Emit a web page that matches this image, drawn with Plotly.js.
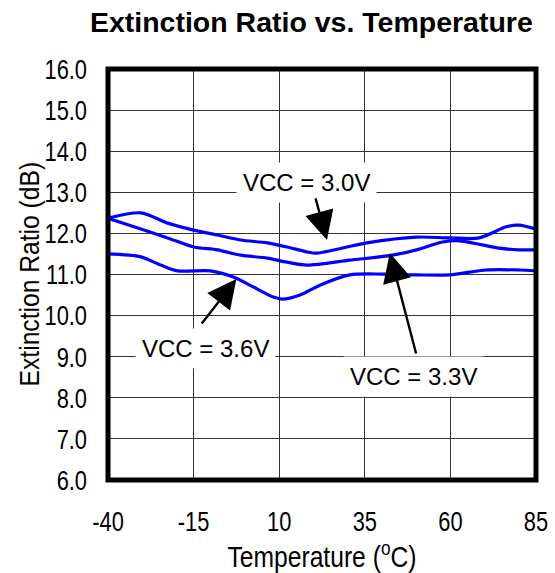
<!DOCTYPE html>
<html>
<head>
<meta charset="utf-8">
<script src="https://cdn.plot.ly/plotly-3.0.1.min.js"></script>
<style>html,body{margin:0;padding:0;background:#fff;}#chart{width:555px;height:573px;}</style>
</head>
<body>
<div id="chart"></div>
<script>
// Temperature (°C) and extinction ratio (dB)
const temp30 = [-40, -30.4, -22.6, -15, -8, -1.3, 6.5, 12.3, 18.1, 21, 35.6, 50.1, 59.7, 68.4, 76.3, 80, 85];
const er30   = [12.37, 12.50, 12.25, 12.08, 11.96, 11.84, 11.77, 11.67, 11.55, 11.52, 11.77, 11.91, 11.89, 11.89, 12.16, 12.2, 12.1];

const temp33 = [-40, -32.4, -22.6, -15, -8, -1.3, 6.5, 12.3, 18.1, 30.6, 43.1, 50.1, 57.7, 62.6, 69.3, 74.2, 80, 85];
const er33   = [12.37, 12.16, 11.89, 11.67, 11.6, 11.47, 11.40, 11.30, 11.23, 11.35, 11.47, 11.6, 11.79, 11.82, 11.72, 11.64, 11.6, 11.6];

const temp36 = [-40, -30.4, -24.6, -19.7, -10.1, -3.4, 2.4, 8.3, 10.9, 16.1, 21.9, 30.6, 40.2, 50.1, 59.7, 70.5, 80, 85];
const er36   = [11.5, 11.43, 11.23, 11.09, 11.09, 10.94, 10.70, 10.45, 10.40, 10.50, 10.74, 10.99, 11.01, 10.99, 10.99, 11.11, 11.11, 11.09];

const xTicks = [-40, -15, 10, 35, 60, 85];
const yTicks = [6, 7, 8, 9, 10, 11, 12, 13, 14, 15, 16];

// label text, label position, arrow tail, arrow tip
const labels     = ['VCC = 3.0V', 'VCC = 3.3V', 'VCC = 3.6V'];
const labelX     = [18.1, 49.2, -11.5];
const labelY     = [13.25, 8.53, 9.21];
const arrowTailX = [20.5, 50.1, -12.97];
const arrowTailY = [12.89, 9.04, 9.77];
const arrowTipX  = [23.95, 42.3, -2.5];
const arrowTipY  = [11.84, 11.52, 10.89];

const yTitle = 'Extinction Ratio (dB)';
const sans = 'Liberation Sans, Arial, sans-serif';

function line(x, y) {
  return {x: x, y: y, type: 'scatter', mode: 'lines',
          line: {color: '#0000ff', width: 3.2, shape: 'spline', smoothing: 0.8},
          hoverinfo: 'skip', showlegend: false};
}

const data = [line(temp30, er30), line(temp33, er33), line(temp36, er36)];

const annotations = [];
labels.forEach((t, i) => {
  annotations.push({x: labelX[i], y: labelY[i], xref: 'x', yref: 'y', text: t,
    showarrow: false, bgcolor: '#ffffff', borderpad: 6,
    font: {family: sans, size: 24, color: '#000'}});
});
labels.forEach((t, i) => {
  annotations.push({x: arrowTipX[i], y: arrowTipY[i], xref: 'x', yref: 'y',
    ax: arrowTailX[i], ay: arrowTailY[i], axref: 'x', ayref: 'y', text: '',
    showarrow: true, arrowhead: 2, arrowsize: 2.4, arrowwidth: 2.4, arrowcolor: '#000'});
});
annotations.push({text: yTitle, xref: 'paper', yref: 'paper', x: -0.184, y: 0.5,
  xanchor: 'center', yanchor: 'middle', textangle: -90, showarrow: false,
  font: {family: sans, size: 28, color: '#000'}});

const layout = {
  width: 555, height: 573,
  margin: {l: 108, r: 19, t: 69, b: 93},
  paper_bgcolor: '#fff', plot_bgcolor: '#fff',
  title: {text: '<b>Extinction Ratio vs. Temperature</b>', font: {family: sans, size: 28.5, color: '#000'},
          xref: 'container', x: 0.561, xanchor: 'center', yref: 'container', y: 0.962, yanchor: 'middle'},
  xaxis: {range: [-40, 85], tickvals: xTicks, ticktext: xTicks.map(String),
          showgrid: true, gridcolor: '#333', gridwidth: 1, zeroline: false, showline: false,
          ticks: '', ticklabelstandoff: 22,
          tickfont: {family: sans, size: 28, color: '#000'},
          title: {text: 'Temperature (<sup>o</sup>C)', font: {family: sans, size: 29, color: '#000'}, standoff: 10}},
  yaxis: {range: [6, 16], tickvals: yTicks, ticktext: yTicks.map(v => v.toFixed(1)),
          showgrid: true, gridcolor: '#333', gridwidth: 1, zeroline: false, showline: false,
          ticks: '', ticklabelstandoff: 20,
          tickfont: {family: sans, size: 28, color: '#000'}},
  shapes: [{type: 'rect', xref: 'paper', yref: 'paper', x0: 0, x1: 1, y0: 0, y1: 1,
            line: {color: '#000', width: 5}, layer: 'above'}],
  annotations: annotations
};

// the reference uses a condensed face: squeeze the axis texts horizontally
function condense(el, ratio) {
  const len = el.getComputedTextLength();
  if (len > 0) {
    el.setAttribute('textLength', (len * ratio).toFixed(2));
    el.setAttribute('lengthAdjust', 'spacingAndGlyphs');
  }
}
function squeezeX(el, ratio) {
  const bb = el.getBBox();
  const cx = bb.x + bb.width / 2;
  const prev = el.getAttribute('transform') || '';
  el.setAttribute('transform', prev + ' translate(' + cx + ',0) scale(' + ratio + ',1) translate(' + (-cx) + ',0)');
}

Plotly.newPlot('chart', data, layout, {displayModeBar: false, staticPlot: true}).then(gd => {
  gd.querySelectorAll('.xtick text, .ytick text').forEach(el => condense(el, 0.78));
  gd.querySelectorAll('.g-xtitle text').forEach(el => squeezeX(el, 0.85));
  gd.querySelectorAll('.annotation-text').forEach(el => {
    if (el.textContent === yTitle) condense(el, 0.88);
  });
});
</script>
</body>
</html>
